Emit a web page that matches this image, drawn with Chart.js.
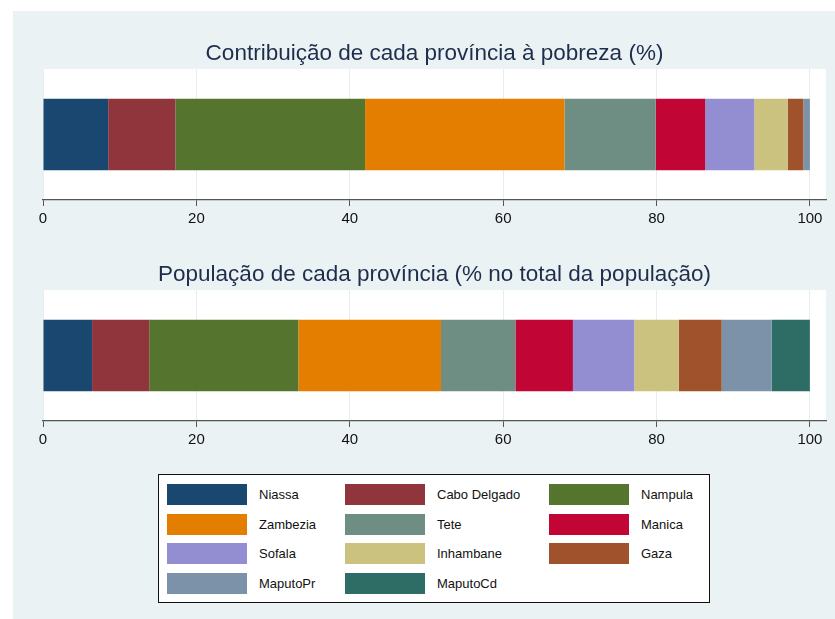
<!DOCTYPE html>
<html>
<head>
<meta charset="utf-8">
<script src="https://cdn.jsdelivr.net/npm/chart.js@4/dist/chart.umd.min.js"></script>
<style>
  html, body { margin: 0; padding: 0; background: #ffffff; }
  body { width: 835px; height: 619px; position: relative; overflow: hidden; font-family: "Liberation Sans", Arial, sans-serif; }
  #bg { position: absolute; left: 13px; top: 11px; width: 822px; height: 608px; background: #eaf2f3; }
  .cv { position: absolute; left: 13px; width: 822px; height: 221px; }
  #legend { position: absolute; left: 158px; top: 474px; width: 552px; height: 129px; box-sizing: border-box; border: 1px solid #111; background: #fff; }
  .sw { position: absolute; width: 80px; height: 21px; }
  .lb { position: absolute; font-size: 13px; color: #111; line-height: 21px; white-space: nowrap; }
</style>
</head>
<body>
<div id="bg"></div>
<div class="cv" style="top:11px"><canvas id="c1" width="822" height="221"></canvas></div>
<div class="cv" style="top:232px"><canvas id="c2" width="822" height="221"></canvas></div>
<div id="legend"></div>
<script>
// ---- data ----
const provinces = ['Niassa', 'Cabo Delgado', 'Nampula', 'Zambezia', 'Tete', 'Manica', 'Sofala', 'Inhambane', 'Gaza', 'MaputoPr', 'MaputoCd'];
const pobreza = [8.5, 8.75, 24.75, 26.0, 11.9, 6.45, 6.4, 4.35, 2.05, 0.85, 0];
const populacao = [6.4, 7.45, 19.45, 18.6, 9.7, 7.5, 8.0, 5.8, 5.6, 6.5, 5.0];
const tickValues = [0, 20, 40, 60, 80, 100];
const titles = ['Contribuição de cada província à pobreza (%)', 'População de cada província (% no total da população)'];

// ---- styles ----
const colors = ['#1a476f', '#90353b', '#55752f', '#e37e00', '#6e8e84', '#c10534', '#938dd2', '#cac27e', '#a0522d', '#7b92a8', '#2d6d66'];
const FONT = '"Liberation Sans", Arial, sans-serif';

const plotBg = {
  id: 'plotBg',
  beforeDraw(chart) {
    const a = chart.chartArea, ctx = chart.ctx;
    ctx.save();
    ctx.fillStyle = '#ffffff';
    ctx.fillRect(a.left, a.top, a.right - a.left, a.bottom - a.top);
    ctx.restore();
  }
};

function makeChart(id, values, title) {
  return new Chart(document.getElementById(id), {
    type: 'bar',
    data: {
      labels: [''],
      datasets: provinces.map((p, i) => ({
        label: p,
        data: [values[i]],
        backgroundColor: colors[i],
        borderWidth: 0,
        barPercentage: 0.545,
        categoryPercentage: 1
      }))
    },
    options: {
      indexAxis: 'y',
      responsive: false,
      animation: false,
      layout: { padding: { left: 30, right: 9, top: 0, bottom: 0 } },
      plugins: {
        legend: { display: false },
        tooltip: { enabled: false },
        title: {
          display: true,
          text: title,
          color: '#1f2d4d',
          font: { family: FONT, size: 22.5, weight: 'normal', lineHeight: 1.2 },
          padding: { top: 29.5, bottom: 1.5 }
        }
      },
      scales: {
        x: {
          stacked: true,
          min: 0,
          max: 102.1,
          afterBuildTicks(scale) { scale.ticks = tickValues.map(v => ({ value: v })); },
          afterFit(scale) { scale.height = 32; },
          grid: { color: '#e6eef0', lineWidth: 1, tickColor: '#555555', tickLength: 6, drawOnChartArea: true },
          border: { display: true, color: '#555555', width: 1.3 },
          ticks: { color: '#111111', font: { family: FONT, size: 15 }, padding: 4, maxRotation: 0, autoSkip: false }
        },
        y: { stacked: true, display: false }
      }
    },
    plugins: [plotBg]
  });
}

makeChart('c1', pobreza, titles[0]);
makeChart('c2', populacao, titles[1]);

// ---- legend (built from the same arrays) ----
const leg = document.getElementById('legend');
const colX = [8, 186, 390];
const rowY = [9, 38.5, 68, 97.5];
provinces.forEach((p, i) => {
  const c = i % 3, r = Math.floor(i / 3);
  const sw = document.createElement('div');
  sw.className = 'sw';
  sw.style.left = colX[c] + 'px';
  sw.style.top = rowY[r] + 'px';
  sw.style.background = colors[i];
  leg.appendChild(sw);
  const lb = document.createElement('div');
  lb.className = 'lb';
  lb.style.left = (colX[c] + 92) + 'px';
  lb.style.top = rowY[r] + 'px';
  lb.textContent = p;
  leg.appendChild(lb);
});
</script>
</body>
</html>
